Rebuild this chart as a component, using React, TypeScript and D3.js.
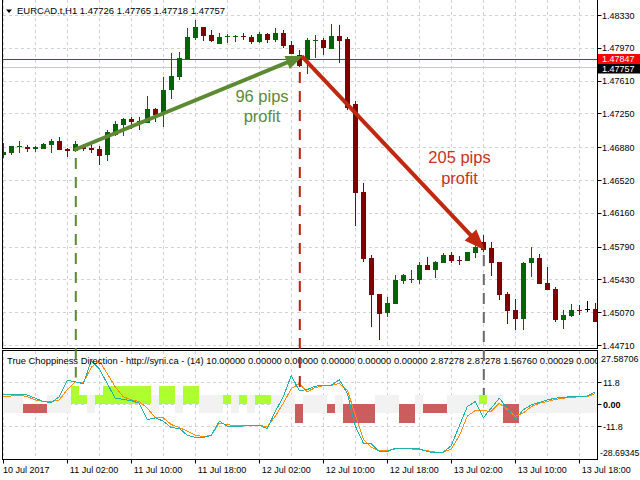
import React from "react";
import * as d3 from "d3";

// H1 candles, index 0 = 10 Jul 18:00
const opens = [
  1.46794, 1.46819, 1.46882, 1.46882, 1.46857, 1.46863, 1.46904, 1.46948, 1.4686, 1.46841,
  1.46901, 1.46874, 1.46857, 1.46794, 1.47014, 1.4712, 1.47186, 1.47171, 1.47149, 1.47299,
  1.47241, 1.47507, 1.47653, 1.47844, 1.48083, 1.48195, 1.48111, 1.48009, 1.48085, 1.48089,
  1.48096, 1.48085, 1.48031, 1.48122, 1.48056, 1.48129, 1.48001, 1.47886, 1.47836, 1.48042,
  1.48056, 1.4796, 1.481, 1.48067, 1.47354, 1.46385, 1.45661, 1.45269, 1.45056, 1.4516,
  1.45415, 1.45423, 1.45423, 1.45588, 1.45536, 1.45613, 1.45697, 1.45637, 1.45635, 1.45722,
  1.4584, 1.45771, 1.45617, 1.45269, 1.45094, 1.44995, 1.45606, 1.45661, 1.45393, 1.45324,
  1.44984, 1.45031, 1.45094, 1.45102, 1.45102,
];
const highs = [
  1.46926, 1.46898, 1.46948, 1.46904, 1.46896, 1.46926, 1.46973, 1.46995, 1.46871, 1.46948,
  1.46915, 1.46912, 1.46893, 1.47068, 1.47167, 1.47195, 1.47214, 1.47214, 1.47438, 1.47313,
  1.47653, 1.4791, 1.47927, 1.48191, 1.48275, 1.48198, 1.48165, 1.48129, 1.48122, 1.48111,
  1.48129, 1.48111, 1.4814, 1.48136, 1.48184, 1.48165, 1.48045, 1.47946, 1.48074, 1.48111,
  1.48074, 1.48231, 1.4822, 1.48092, 1.4739, 1.46484, 1.45697, 1.45269, 1.4524, 1.45478,
  1.45489, 1.45533, 1.45624, 1.45672, 1.45635, 1.45722, 1.45733, 1.45686, 1.45733, 1.45843,
  1.45917, 1.45837, 1.45617, 1.45291, 1.45215, 1.45624, 1.45782, 1.45708, 1.45569, 1.4535,
  1.45094, 1.4516, 1.45149, 1.45196, 1.45167,
];
const lows = [
  1.46761, 1.46794, 1.46819, 1.46824, 1.46824, 1.46857, 1.46819, 1.46852, 1.46776, 1.4683,
  1.46838, 1.46819, 1.46685, 1.46732, 1.47006, 1.47006, 1.47076, 1.47068, 1.47149, 1.4716,
  1.47105, 1.47409, 1.47617, 1.47844, 1.48056, 1.48048, 1.48031, 1.48009, 1.48026, 1.48031,
  1.48056, 1.48009, 1.4802, 1.4802, 1.48031, 1.47965, 1.47902, 1.47763, 1.47683, 1.47855,
  1.47891, 1.4796, 1.478, 1.47288, 1.46019, 1.45617, 1.44911, 1.44765, 1.4502, 1.4516,
  1.45379, 1.45393, 1.45379, 1.45536, 1.45448, 1.45606, 1.45606, 1.45588, 1.45635, 1.45661,
  1.45733, 1.4547, 1.45204, 1.4494, 1.44874, 1.44874, 1.45459, 1.45379, 1.45313, 1.44966,
  1.44885, 1.45014, 1.45039, 1.45075, 1.44966,
];
const closes = [
  1.46827, 1.46893, 1.46893, 1.46857, 1.46879, 1.46915, 1.46945, 1.46852, 1.46841, 1.46915,
  1.46863, 1.46852, 1.46787, 1.47043, 1.47131, 1.47189, 1.4716, 1.4716, 1.47299, 1.47233,
  1.47507, 1.47661, 1.47855, 1.48092, 1.48195, 1.48103, 1.48048, 1.48085, 1.48096, 1.48096,
  1.48085, 1.48031, 1.48122, 1.48056, 1.48129, 1.47993, 1.47902, 1.47771, 1.48056, 1.48056,
  1.47965, 1.481, 1.48048, 1.47306, 1.46381, 1.45653, 1.45258, 1.4505, 1.45167, 1.45423,
  1.45478, 1.45431, 1.45588, 1.45536, 1.45617, 1.45697, 1.45635, 1.45631, 1.45727, 1.45782,
  1.45747, 1.45613, 1.45258, 1.45086, 1.44995, 1.45613, 1.45661, 1.45379, 1.45313, 1.44984,
  1.45039, 1.45094, 1.45083, 1.45102, 1.44966,
];

// indicator histogram: 10/5 up, -5/-10 down, 0 = choppy (grey band)
const trendHist = [
  0, 0, 0, -5, -5, -5, 0, 0, 0, 10, 5, 0, 5, 10, 10, 10, 10, 10, 10, 0,
  10, 10, 0, 10, 10, 0, 0, 0, 5, 0, 5, 0, 5, 5, 0, 0, 0, -10, 0, 0,
  0, -5, 0, -10, -10, -10, -10, 0, 0, 0, -10, -10, 0, -5, -5, -5, 0, 0, 0, 0,
  5, 0, 0, -10, -10, 0, 0, 0, 0, 0, 0, 0, 0, 0, 0,
];
const fastLine = [
  5.1, 5.3, 5.3, 4.9, 3.2, 1.4, 0.9, 4.0, 12.9, 12.0, 11.1, 23.4, 19.0, 11.1, 3.2, 2.6, 1.9, 0.5, -8.3, -7.4,
  -9.2, -12.7, -13.1, -16.8, -18.0, -18.0, -16.8, -9.2, -11.8, -11.8, -11.8, -11.5, -11.5, -13.2, -3.9, 4.0, 15.5, 7.2, 7.9, 9.7,
  10.2, 10.2, 13.2, 5.8, -11.8, -21.0, -21.5, -25.6, -25.6, -23.8, -23.8, -23.8, -24.2, -25.6, -26.3, -25.9, -22.4, -11.8, -1.3, 1.4,
  -7.4, -2.1, 3.2, -2.1, -8.3, -3.0, -0.4, 0.9, 2.3, 3.2, 3.7, 4.0, 4.4, 4.4, 6.7,
];
const slowLine = [
  4.0, 4.4, 4.9, 4.0, 2.3, 1.4, 1.4, 2.3, 7.9, 12.0, 11.6, 19.9, 23.4, 16.4, 9.3, 4.0, 2.3, 1.4, -2.1, -7.4,
  -7.4, -11.0, -12.7, -14.5, -16.8, -17.5, -16.8, -10.4, -11.0, -11.8, -11.5, -11.5, -11.5, -12.2, -6.5, 0.5, 8.4, 11.1, 6.7, 9.0,
  9.9, 10.2, 11.1, 7.6, -5.7, -18.9, -23.3, -25.1, -25.1, -24.2, -23.8, -24.2, -24.5, -25.1, -25.9, -25.9, -24.2, -17.1, -6.5, -3.4,
  -3.5, -3.9, 0.5, -3.0, -6.5, -4.8, -1.3, 0.5, 1.4, 2.6, 3.2, 3.7, 4.0, 4.0, 5.8,
];

const priceTicks = [1.4833, 1.4797, 1.4761, 1.4725, 1.4688, 1.4652, 1.4616, 1.4579, 1.4543, 1.4507, 1.4471];
const indTicks = [11.8, 0, -11.8];
const timeLabels = [
  "10 Jul 2017", "11 Jul 02:00", "11 Jul 10:00", "11 Jul 18:00", "12 Jul 02:00",
  "12 Jul 10:00", "12 Jul 18:00", "13 Jul 02:00", "13 Jul 10:00", "13 Jul 18:00",
];

const bidPrice = 1.47757;
const askPrice = 1.47847;

// drawn objects: [bar, price]
const greenArrow = [[8.85, 1.46849], [37.45, 1.4788]];
const redArrow = [[37.3, 1.4788], [60.2, 1.4575]];
const markers = [
  { bar: 9, top: 1.46761, bottom: 14.4, color: "#5b8a32" },
  { bar: 37, top: 1.47705, bottom: 8.6, color: "#b8200e" },
  { bar: 60, top: 1.45697, bottom: 4.9, color: "#6a6a6a" },
];

const font = "'Liberation Sans', Arial, sans-serif";
const left = 2.5;
const right = 597.5;
const mainBottom = 348.5;
const indTop = 350.5;
const indBottom = 459.5;

const x = d3.scaleLinear().domain([0, 74]).range([3.3, 595.3]);
const y = d3.scaleLinear().domain([1.4471, 1.4833]).range([345, 15]);
const yi = d3.scaleLinear().domain([-11.8, 11.8]).range([426, 382.3]);

function Arrow({ from, to, color, head, wide }: any) {
  const dx = to[0] - from[0];
  const dy = to[1] - from[1];
  const len = Math.hypot(dx, dy);
  const ux = dx / len;
  const uy = dy / len;
  const bx = to[0] - ux * head;
  const by = to[1] - uy * head;
  const pts = [
    [to[0], to[1]],
    [bx - uy * wide / 2, by + ux * wide / 2],
    [bx + uy * wide / 2, by - ux * wide / 2],
  ];
  return (
    <g>
      <line x1={from[0]} y1={from[1]} x2={bx + ux * 2} y2={by + uy * 2} stroke={color} strokeWidth={4} />
      <polygon points={pts.map((p) => p.join(",")).join(" ")} fill={color} />
    </g>
  );
}

export default function App() {
  const idx = d3.range(opens.length);
  const gridBars = d3.range(0, 75, 4);
  const lineGen = d3
    .line<number>()
    .x((_, i) => x(i))
    .y((d) => yi(d));

  const ga = greenArrow.map((p) => [x(p[0]), y(p[1])]);
  const ra = redArrow.map((p) => [x(p[0]), y(p[1])]);

  return (
    <div style={{ position: "absolute", left: 0, top: 0 }}>
      <svg width={640} height={480} style={{ display: "block", background: "#fff" }}>
        <defs>
          <clipPath id="mainClip">
            <rect x={3} y={0} width={594} height={348} />
          </clipPath>
          <clipPath id="indClip">
            <rect x={3} y={351} width={594} height={108} />
          </clipPath>
          <clipPath id="priceAxisClip">
            <rect x={597} y={0} width={43} height={349.5} />
          </clipPath>
        </defs>

        {/* main grid */}
        <g stroke="#d2d2d2" strokeDasharray="3,3" shapeRendering="crispEdges">
          {priceTicks.map((p) => (
            <line key={p} x1={left} x2={right} y1={Math.round(y(p)) + 0.5} y2={Math.round(y(p)) + 0.5} />
          ))}
          {gridBars.map((b) => (
            <line key={b} x1={Math.round(x(b)) + 0.5} x2={Math.round(x(b)) + 0.5} y1={0} y2={mainBottom} />
          ))}
        </g>

        {/* current price lines */}
        <line x1={left} x2={right} y1={Math.round(y(bidPrice)) + 0.5} y2={Math.round(y(bidPrice)) + 0.5} stroke="#c8c8c8" />
        <line x1={left} x2={right} y1={Math.round(y(askPrice)) + 0.5} y2={Math.round(y(askPrice)) + 0.5} stroke="#ff0000" />

        {/* candles */}
        <g clipPath="url(#mainClip)" shapeRendering="crispEdges">
          {idx.map((i) => {
            const o = opens[i];
            const c = closes[i];
            const col = c > o ? "#006400" : c < o ? "#800000" : "#000000";
            const cx = Math.round(x(i));
            const top = Math.round(y(Math.max(o, c)));
            const bot = Math.round(y(Math.min(o, c)));
            return (
              <g key={i}>
                <line x1={cx + 0.5} x2={cx + 0.5} y1={y(highs[i])} y2={y(lows[i])} stroke={col} />
                <rect x={cx - 2} y={top} width={5} height={Math.max(1, bot - top)} fill={col} />
              </g>
            );
          })}
        </g>

        {/* indicator grid */}
        <g stroke="#d2d2d2" strokeDasharray="3,3" shapeRendering="crispEdges">
          {indTicks.map((v) => (
            <line key={v} x1={left} x2={right} y1={Math.round(yi(v)) + 0.5} y2={Math.round(yi(v)) + 0.5} />
          ))}
          {gridBars.map((b) => (
            <line key={b} x1={Math.round(x(b)) + 0.5} x2={Math.round(x(b)) + 0.5} y1={indTop} y2={indBottom} />
          ))}
        </g>

        {/* indicator histogram */}
        <g clipPath="url(#indClip)" shapeRendering="crispEdges">
          {idx.map((i) => {
            const v = trendHist[i];
            const x0 = Math.round(x(i) - 4);
            if (v === 0) {
              return <rect key={i} x={x0} y={yi(5)} width={8} height={yi(-5) - yi(5)} fill="#f2f2f2" />;
            }
            return (
              <rect
                key={i}
                x={x0}
                y={v > 0 ? yi(v) : yi(0)}
                width={8}
                height={Math.abs(yi(v) - yi(0))}
                fill={v > 0 ? "#adff2f" : "#cd5c5c"}
              />
            );
          })}
          <path d={lineGen(slowLine) || ""} fill="none" stroke="#ff8c00" strokeWidth={1} />
          <path d={lineGen(fastLine) || ""} fill="none" stroke="#20b2aa" strokeWidth={1} />
        </g>

        {/* frames */}
        <g fill="none" stroke="#000" shapeRendering="crispEdges">
          <path d={`M${left},0 V${mainBottom} H${right} V0`} />
          <rect x={left} y={indTop} width={right - left} height={indBottom - indTop} />
        </g>

        {/* price axis */}
        <g fontFamily={font} fontSize={9} fill="#000" clipPath="url(#priceAxisClip)">
          {priceTicks.map((p) => (
            <g key={p}>
              <line x1={right} x2={right + 4} y1={Math.round(y(p)) + 0.5} y2={Math.round(y(p)) + 0.5} stroke="#000" />
              <text x={602} y={y(p) + 3.5}>{p.toFixed(5)}</text>
            </g>
          ))}
        </g>
        <rect x={598} y={54} width={42} height={9.5} fill="#ff0000" />
        <text x={602} y={62} fontFamily={font} fontSize={9} fill="#fff">{askPrice.toFixed(5)}</text>
        <rect x={598} y={63.5} width={42} height={10} fill="#000" />
        <text x={602} y={71.5} fontFamily={font} fontSize={9} fill="#fff">{bidPrice.toFixed(5)}</text>

        {/* indicator axis */}
        <g fontFamily={font} fontSize={9} fill="#000">
          {indTicks.map((v) => (
            <g key={v}>
              <line x1={right} x2={right + 4} y1={Math.round(yi(v)) + 0.5} y2={Math.round(yi(v)) + 0.5} stroke="#000" />
              <text x={603} y={yi(v) + 3.5} fontWeight={v === 0 ? "bold" : "normal"}>
                {v.toFixed(v === 0 ? 2 : 1)}
              </text>
            </g>
          ))}
          <text x={601} y={362}>27.58706</text>
          <text x={600} y={456} textLength={39.5} lengthAdjust="spacingAndGlyphs">-28.69345</text>
        </g>

        {/* time axis */}
        <g fontFamily={font} fontSize={9} fill="#000">
          {timeLabels.map((t, k) => (
            <g key={t}>
              <line x1={Math.round(x(k * 8)) + 0.5} x2={Math.round(x(k * 8)) + 0.5} y1={indBottom} y2={indBottom + 4} stroke="#000" />
              <text x={k === 0 ? 3 : x(k * 8) + 2.5} y={473}>{t}</text>
            </g>
          ))}
        </g>

        {/* titles */}
        <polygon points="6,9.5 12,9.5 9,13" fill="#000" />
        <text x={17} y={14} fontFamily={font} fontSize={9.5} fill="#000">
          EURCAD.t,H1  1.47726 1.47765 1.47718 1.47757
        </text>
        <g clipPath="url(#indClip)">
          <text x={7} y={363.5} fontFamily={font} fontSize={9.4} fill="#000" style={{ whiteSpace: "pre" }}>
            True Choppiness Direction - http://syni.ca - (14) 10.00000 0.00000 0.00000 0.00000 0.00000 0.00000 2.87278 2.87278 1.56760 0.00029 0.00000
          </text>
        </g>

        {/* dashed markers */}
        {markers.map((m) => (
          <line
            key={m.bar}
            x1={x(m.bar) + 0.5}
            x2={x(m.bar) + 0.5}
            y1={y(m.top)}
            y2={yi(m.bottom)}
            stroke={m.color}
            strokeWidth={2}
            strokeDasharray="11,8"
          />
        ))}

        {/* arrows */}
        <Arrow from={ga[0]} to={ga[1]} color="#5b8a32" head={17} wide={14} />
        <Arrow from={ra[0]} to={ra[1]} color="#c0280f" head={21} wide={16} />

        <g fontFamily={font} fontSize={16.5} textAnchor="middle">
          <text x={262} y={102} fill="#5b8a3c">96 pips</text>
          <text x={262} y={122} fill="#5b8a3c">profit</text>
          <text x={459.5} y={163} fill="#c8321e">205 pips</text>
          <text x={459.5} y={184} fill="#c8321e">profit</text>
        </g>
      </svg>
    </div>
  );
}
